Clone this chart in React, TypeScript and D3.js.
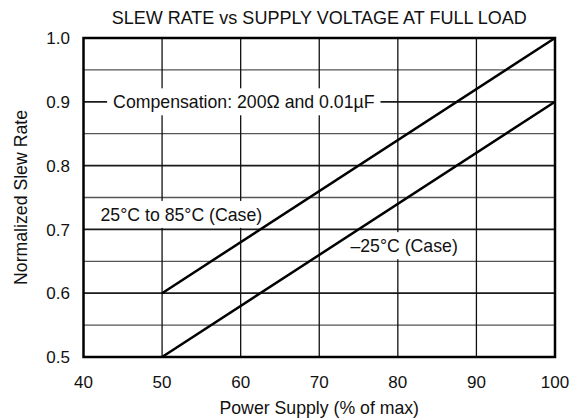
import React, { useRef, useEffect } from 'react';
import * as d3 from 'd3';

const supply = [50, 100];
const slewHot = [0.6, 1.0];
const slewCold = [0.5, 0.9];

const xTicks = [40, 50, 60, 70, 80, 90, 100];
const yTicks = [0.5, 0.6, 0.7, 0.8, 0.9, 1.0];
const yMinor = [0.55, 0.65, 0.75, 0.85, 0.95];

const notes = [
    { text: 'Compensation: 200Ω and 0.01µF', x: 60.4, y: 0.9 },
    { text: '25°C to 85°C (Case)', x: 52.45, y: 0.7235 },
    { text: '\u201325°C (Case)', x: 80.8, y: 0.6745 },
];

const W = 584;
const H = 420;
const FONT = '"Liberation Sans", Arial, Helvetica, sans-serif';

export default function App() {
    const svgRef = useRef<SVGSVGElement>(null);

    useEffect(() => {
        document.body.style.margin = '0';
        const svg = d3.select(svgRef.current);
        svg.selectAll('*').remove();

        const left = 83.5, right = 555, top = 38, bottom = 357;
        const x = d3.scaleLinear().domain([40, 100]).range([left, right]);
        const y = d3.scaleLinear().domain([0.5, 1.0]).range([bottom, top]);

        const g = svg.append('g');

        // minor horizontal grid
        g.selectAll('.minor')
            .data(yMinor)
            .join('line')
            .attr('x1', left).attr('x2', right)
            .attr('y1', d => y(d)).attr('y2', d => y(d))
            .attr('stroke', '#555').attr('stroke-width', 1.3);

        // major horizontal grid
        g.selectAll('.major')
            .data(yTicks.slice(1, -1))
            .join('line')
            .attr('x1', left).attr('x2', right)
            .attr('y1', d => y(d)).attr('y2', d => y(d))
            .attr('stroke', '#1a1a1a').attr('stroke-width', 1.8);

        // vertical grid
        g.selectAll('.vert')
            .data(xTicks.slice(1, -1))
            .join('line')
            .attr('x1', d => x(d)).attr('x2', d => x(d))
            .attr('y1', top).attr('y2', bottom)
            .attr('stroke', '#111').attr('stroke-width', 1.3);

        // annotation boxes + text
        notes.forEach(n => {
            const t = g.append('text')
                .attr('x', x(n.x))
                .attr('y', y(n.y))
                .attr('dy', '0.36em')
                .attr('text-anchor', 'middle')
                .attr('font-family', FONT)
                .attr('font-size', 17.7)
                .attr('fill', '#111')
                .text(n.text);
            const w = (t.node() as SVGTextElement).getComputedTextLength();
            g.insert('rect', () => t.node())
                .attr('x', x(n.x) - w / 2 - 6)
                .attr('y', y(n.y) - 13.5)
                .attr('width', w + 12)
                .attr('height', 27)
                .attr('fill', '#fff');
        });

        // data lines
        const lineGen = d3.line<number>()
            .x((d, i) => x(supply[i]))
            .y(d => y(d));
        g.selectAll('.series')
            .data([slewHot, slewCold])
            .join('path')
            .attr('d', lineGen)
            .attr('fill', 'none')
            .attr('stroke', '#000')
            .attr('stroke-width', 2.5);

        // frame
        g.append('rect')
            .attr('x', left).attr('y', top)
            .attr('width', right - left).attr('height', bottom - top)
            .attr('fill', 'none')
            .attr('stroke', '#000')
            .attr('stroke-width', 2.5);

        // tick labels
        g.selectAll('.xt')
            .data(xTicks)
            .join('text')
            .attr('x', d => x(d))
            .attr('y', 388)
            .attr('text-anchor', 'middle')
            .attr('font-family', FONT)
            .attr('font-size', 17)
            .attr('fill', '#111')
            .text(d => d3.format('d')(d));

        g.selectAll('.yt')
            .data(yTicks)
            .join('text')
            .attr('x', 70)
            .attr('y', d => y(d))
            .attr('dy', '0.36em')
            .attr('text-anchor', 'end')
            .attr('font-family', FONT)
            .attr('font-size', 17)
            .attr('fill', '#111')
            .text(d => d3.format('.1f')(d));

        // titles
        g.append('text')
            .attr('x', (left + right) / 2)
            .attr('y', 24)
            .attr('text-anchor', 'middle')
            .attr('font-family', FONT)
            .attr('font-size', 18)
            .attr('fill', '#111')
            .text('SLEW RATE vs SUPPLY VOLTAGE AT FULL LOAD');

        g.append('text')
            .attr('x', (left + right) / 2)
            .attr('y', 414)
            .attr('text-anchor', 'middle')
            .attr('font-family', FONT)
            .attr('font-size', 17.7)
            .attr('fill', '#111')
            .text('Power Supply (% of max)');

        g.append('text')
            .attr('transform', `translate(21, ${(top + bottom) / 2}) rotate(-90)`)
            .attr('dy', '0.36em')
            .attr('text-anchor', 'middle')
            .attr('font-family', FONT)
            .attr('font-size', 17.7)
            .attr('fill', '#111')
            .text('Normalized Slew Rate');
    }, []);

    return (
        <svg ref={svgRef} width={W} height={H} style={{ display: 'block', background: '#fff' }} />
    );
}
